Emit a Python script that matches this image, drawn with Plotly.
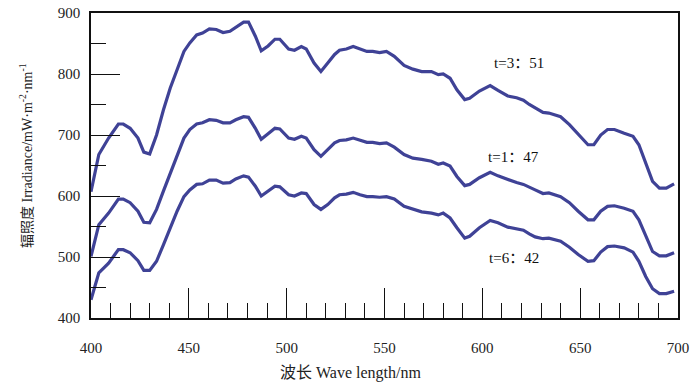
import plotly.graph_objects as go

wavelength = [400, 404, 409, 414, 416.5, 420, 424, 427, 430, 433.5, 437, 440.5, 444, 447.5, 450.5, 454, 457, 460.5, 464, 467.5,
              471, 474, 478, 480.5, 484, 487, 490.5, 494, 496.5, 501, 504, 507.5, 510, 514, 517.5, 521, 524.5, 527, 530.5, 534,
              537.5, 541, 544, 547.5, 551, 555, 560, 564.5, 569, 574, 577.5, 580, 583.5, 587, 591, 593.5, 598.5, 604, 608, 613,
              617.5, 621, 624, 627, 631, 634, 640, 644.5, 649, 654, 657, 660.5, 664, 667.5, 672.5, 677, 680, 683.5, 687, 690.5,
              694, 698]

irr_t351 = [607, 668, 695, 718, 718, 711, 695, 672, 669, 700, 741, 777, 807, 837, 851, 864, 867, 874, 873, 868,
            870, 876, 885, 885, 862, 838, 846, 857, 857, 841, 839, 845, 841, 818, 804, 818, 832, 839, 841, 845,
            841, 837, 837, 835, 837, 829, 814, 808, 804, 804, 799, 800, 793, 774, 758, 760, 772, 781, 773, 764,
            761, 757, 750, 744, 737, 736, 730, 717, 702, 684, 684, 700, 709, 709, 703, 698, 684, 654, 624, 613,
            613, 620]

irr_t147 = [501, 553, 572, 595, 595, 589, 575, 557, 556, 578, 608, 638, 668, 695, 709, 718, 720, 725, 724, 720,
            720, 725, 730, 729, 711, 693, 702, 711, 710, 695, 693, 698, 695, 676, 665, 676, 687, 691, 692, 695,
            691, 688, 688, 686, 687, 680, 668, 662, 660, 657, 652, 654, 649, 632, 617, 619, 630, 639, 633, 627,
            622, 619, 614, 610, 604, 605, 599, 589, 575, 561, 561, 575, 583, 584, 580, 575, 561, 534, 509, 502,
            502, 507]

irr_t642 = [430, 474, 490, 512, 512, 507, 494, 478, 478, 493, 520, 548, 575, 599, 610, 619, 620, 626, 626, 621,
            622, 628, 633, 631, 616, 600, 608, 616, 615, 602, 600, 605, 604, 586, 578, 586, 597, 602, 603, 606,
            602, 599, 599, 598, 599, 595, 583, 578, 574, 572, 569, 572, 564, 548, 531, 534, 548, 560, 556, 549,
            546, 544, 538, 533, 530, 531, 526, 516, 504, 493, 494, 508, 517, 518, 515, 508, 493, 468, 448, 440,
            440, 444]

series_names = ["t=3：51", "t=1：47", "t=6：42"]
series_values = [irr_t351, irr_t147, irr_t642]

for v in series_values:
    assert len(v) == len(wavelength)

LINE = "#3f4296"
FONT = "Liberation Serif, Noto Sans CJK SC, serif"

# plot area wanted at page px x 91..678, y 13..318 (body margin removed below)
W, H = 700, 382
L, R, T, B = 91, W - 678, 13, H - 318

def px_to_paper(xp, yp):
    return (xp - L) / (W - L - R), 1 - (yp - T) / (H - T - B)

fig = go.Figure()
for name, vals in zip(series_names, series_values):
    fig.add_trace(go.Scatter(x=wavelength, y=vals, mode="lines", name=name,
                             line=dict(color=LINE, width=3.2), showlegend=False))

label_pos = [(604.8, 818), (601.7, 664), (602.2, 499)]
for name, (lx, ly) in zip(series_names, label_pos):
    fig.add_annotation(x=lx, y=ly, xref="x", yref="y", text=name, showarrow=False,
                       xanchor="left", yanchor="middle", font=dict(family=FONT, size=15, color="#111"))

ytx, yty = px_to_paper(26, 156)
fig.add_annotation(x=ytx, y=yty, xref="paper", yref="paper", textangle=-90,
                   text="辐照度 Irradiance/mW·m<sup>-2</sup>·nm<sup>-1</sup>", showarrow=False,
                   xanchor="center", yanchor="middle", font=dict(family=FONT, size=14, color="#222"))
xtx, xty = px_to_paper(350, 373)
fig.add_annotation(x=xtx, y=xty, xref="paper", yref="paper",
                   text="波长 Wave length/nm", showarrow=False,
                   xanchor="center", yanchor="middle", font=dict(family=FONT, size=16, color="#222"))

fig.update_layout(
    width=W, height=H,
    margin=dict(l=L, r=R, t=T, b=B, autoexpand=False),
    paper_bgcolor="white", plot_bgcolor="white",
    font=dict(family=FONT, size=15, color="#222"),
)
fig.update_xaxes(range=[400, 700], dtick=50, tick0=400, showgrid=False, zeroline=False,
                 showline=True, linecolor="#111", linewidth=1.5, mirror=True, automargin=False,
                 ticks="inside", ticklen=30, tickwidth=1, tickcolor="#111", ticklabeloverflow="allow",
                 ticklabelstandoff=15, tickfont=dict(family=FONT, size=15, color="#222"),
                 minor=dict(dtick=10, ticks="inside", ticklen=15, tickwidth=1, tickcolor="#111", showgrid=False))
fig.update_yaxes(range=[400, 900], dtick=100, tick0=400, showgrid=False, zeroline=False,
                 showline=True, linecolor="#111", linewidth=1.5, mirror=True, automargin=False,
                 ticks="inside", ticklen=29, tickwidth=1.2, tickcolor="#111", ticklabeloverflow="allow",
                 ticklabelstandoff=6, tickfont=dict(family=FONT, size=15, color="#222"),
                 minor=dict(dtick=50, ticks="inside", ticklen=15, tickwidth=1.2, tickcolor="#111", showgrid=False))

fig.write_html("out.html", config={"displayModeBar": False},
               post_script="document.body.style.margin='0';document.body.style.overflow='hidden';")
